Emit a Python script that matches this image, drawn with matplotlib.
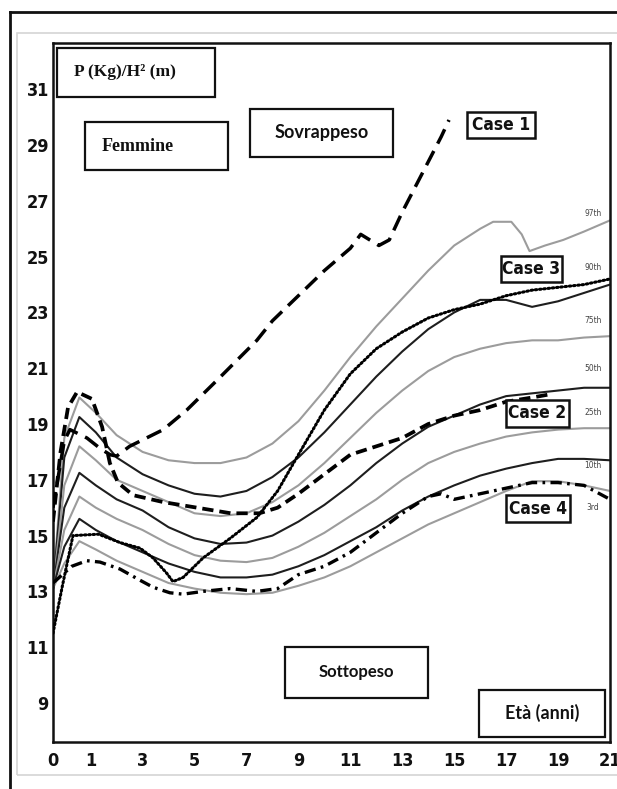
import numpy as np
import matplotlib
matplotlib.use("Agg")
import matplotlib.pyplot as plt
from matplotlib.patches import Rectangle
from matplotlib.lines import Line2D

# ---- percentile reference curves (BMI by age, girls) ----
pct_names = ["97th", "90th", "75th", "50th", "25th", "10th", "3rd"]
pct_age = [0, 0.3, 0.7, 1.2, 2, 3, 4, 5, 6, 7, 8, 9, 10, 11, 12, 13, 14, 15,
           16, 17, 18, 19, 20, 21]
p97_age = [0, 0.3, 0.7, 1.2, 2, 3, 4, 5, 6, 7, 8, 9, 10, 11, 12, 13, 14, 15,
           16, 16.5, 17.2, 17.6, 17.9, 18.5, 19.2, 20, 21]
p97 = [13.1, 18.5, 19.95, 19.4, 18.6, 18.0, 17.7, 17.6, 17.6, 17.8, 18.3,
       19.1, 20.2, 21.4, 22.5, 23.5, 24.5, 25.4, 26.0, 26.25, 26.25, 25.8,
       25.2, 25.4, 25.6, 25.9, 26.3]
p90 = [13.1, 17.8, 19.25, 18.7, 17.8, 17.2, 16.8, 16.5, 16.4, 16.6, 17.1,
       17.8, 18.7, 19.7, 20.7, 21.6, 22.4, 23.0, 23.45, 23.45, 23.2, 23.4,
       23.7, 24.0]
p75 = [13.1, 16.8, 18.2, 17.7, 17.0, 16.6, 16.2, 15.8, 15.7, 15.8, 16.2,
       16.8, 17.6, 18.5, 19.4, 20.2, 20.9, 21.4, 21.7, 21.9, 22.0, 22.0,
       22.1, 22.15]
p50 = [13.1, 16.0, 17.25, 16.8, 16.3, 15.9, 15.3, 14.9, 14.7, 14.75, 15.0,
       15.5, 16.1, 16.8, 17.6, 18.3, 18.9, 19.3, 19.7, 20.0, 20.1, 20.2,
       20.3, 20.3]
p25 = [13.1, 15.2, 16.4, 16.0, 15.6, 15.2, 14.7, 14.3, 14.1, 14.05, 14.2,
       14.6, 15.1, 15.7, 16.3, 17.0, 17.6, 18.0, 18.3, 18.55, 18.7, 18.8,
       18.85, 18.85]
p10 = [13.1, 14.6, 15.6, 15.2, 14.8, 14.4, 14.0, 13.7, 13.5, 13.5, 13.6,
       13.9, 14.3, 14.8, 15.3, 15.9, 16.4, 16.8, 17.15, 17.4, 17.6, 17.75,
       17.75, 17.7]
p3 = [13.1, 14.0, 14.8, 14.5, 14.1, 13.7, 13.3, 13.1, 12.95, 12.9, 12.95,
      13.2, 13.5, 13.9, 14.4, 14.9, 15.4, 15.8, 16.2, 16.6, 16.95, 16.95,
      16.8, 16.6]

# ---- individual patients ----
case1_age = [0, 0.15, 0.3, 0.45, 0.9, 1.4, 1.75, 2.0, 2.5, 3.8, 4.7, 5.9, 7.4,
             8, 9, 10, 11, 11.4, 12.1, 12.5, 13, 13.5, 14, 14.5, 14.8]
case1_bmi = [16.0, 17.2, 18.4, 18.8, 18.5, 18.1, 17.9, 17.85, 18.2, 18.8, 19.5,
             20.6, 22.0, 22.7, 23.6, 24.5, 25.3, 25.8, 25.4, 25.6, 26.6, 27.5,
             28.4, 29.3, 29.9]

case2_age = [0, 0.2, 0.4, 0.64, 1.05, 1.44, 1.74, 2.05, 2.63, 3.8, 5.1, 6.4,
             7.5, 8.2, 9, 10, 11, 12, 13, 14, 15, 16, 17, 18, 18.6]
case2_bmi = [15.5, 18.0, 19.6, 20.15, 19.9, 18.9, 17.6, 16.9, 16.45, 16.2,
             16.0, 15.8, 15.8, 16.0, 16.5, 17.2, 17.9, 18.2, 18.5, 19.0, 19.3,
             19.5, 19.8, 19.95, 20.05]

case3_age = [0, 0.25, 0.53, 1.3, 2.13, 2.9, 3.4, 3.93, 4.17, 4.56, 5.33, 6.37,
             7.4, 8.2, 9, 10, 11, 12, 13, 14, 15, 16, 17, 18, 19, 20, 21]
case3_bmi = [11.5, 13.2, 15.0, 15.05, 14.75, 14.55, 14.2, 13.65, 13.35, 13.5,
             14.2, 14.9, 15.65, 16.6, 17.9, 19.5, 20.8, 21.7, 22.3, 22.8, 23.1,
             23.3, 23.6, 23.8, 23.9, 24.0, 24.2]

case4_age = [0, 0.5, 0.9, 1.36, 2.13, 2.9, 3.4, 4.05, 4.56, 5.33, 6.37, 7.4,
             8.2, 9, 10, 11, 12, 13, 14, 14.5, 15, 16, 17, 18, 19, 20, 21]
case4_bmi = [13.3, 13.9, 14.1, 14.05, 13.8, 13.4, 13.15, 12.95, 12.9, 13.0,
             13.1, 13.0, 13.1, 13.6, 13.9, 14.4, 15.1, 15.8, 16.4, 16.5, 16.3,
             16.5, 16.7, 16.9, 16.9, 16.8, 16.3]

x_ticks = [0, 1, 3, 5, 7, 9, 11, 13, 15, 17, 19, 21]
y_ticks = [9, 11, 13, 15, 17, 19, 21, 23, 25, 27, 29, 31]

# ---- layout ----
FIRST_YEAR_STRETCH = 1.45
pct_label_y = [26.56, 24.6, 22.7, 21.0, 19.4, 17.5, 16.0]
NARROW = ["DejaVu Sans"]
SERIF = ["Liberation Serif", "DejaVu Serif"]
HUMAN = ["Lato", "DejaVu Sans"]


def age_fwd(x):
    x = np.asarray(x, dtype=float)
    return np.where(x < 1, x * FIRST_YEAR_STRETCH, x + FIRST_YEAR_STRETCH - 1)


def age_inv(t):
    t = np.asarray(t, dtype=float)
    return np.where(t < FIRST_YEAR_STRETCH, t / FIRST_YEAR_STRETCH,
                    t - FIRST_YEAR_STRETCH + 1)


fig = plt.figure(figsize=(6.17, 7.89), dpi=100)
W, H = 617, 789
ax = fig.add_axes([53 / W, 1 - 742 / H, (610 - 53) / W, (742 - 43) / H])
ax.set_xscale("function", functions=(age_fwd, age_inv))
ax.set_xlim(0, 21)
ax.set_ylim(7.6, 32.66)

gray = "#9c9c9c"
dark = "#1e1e1e"
pct_series = [(p97_age, p97, gray), (pct_age, p90, dark), (pct_age, p75, gray),
              (pct_age, p50, dark), (pct_age, p25, gray), (pct_age, p10, dark),
              (pct_age, p3, gray)]
for (ages, vals, col) in pct_series:
    ax.plot(ages, vals, color=col, lw=1.5, solid_capstyle="round", zorder=2)

for name, ly in zip(pct_names, pct_label_y):
    ax.text(20.35, ly, name, fontsize=6, color="#444444", ha="center",
            va="center", family=NARROW, fontstretch="condensed", zorder=3)

ax.plot(case1_age, case1_bmi, color="black", lw=2.5,
        linestyle=(0, (4.6, 2.4)), zorder=4)
ax.plot(case2_age, case2_bmi, color="black", lw=2.7,
        linestyle=(0, (3.0, 1.6)), zorder=4)
ax.plot(case3_age, case3_bmi, color="black", lw=2.2,
        linestyle=(0, (0.5, 0.9)), dash_capstyle="round", zorder=4)
ax.plot(case4_age, case4_bmi, color="black", lw=2.4,
        linestyle=(0, (3.4, 1.6, 0.8, 1.6)), zorder=4)

ax.set_xticks(x_ticks)
ax.set_xticklabels([str(v) for v in x_ticks])
ax.set_yticks(y_ticks)
ax.set_yticklabels([str(v) for v in y_ticks])
ax.tick_params(axis="x", length=0, pad=7, labelsize=13)
ax.tick_params(axis="y", length=0, pad=3, labelsize=13)
for lab in ax.get_xticklabels() + ax.get_yticklabels():
    lab.set_family(NARROW)
    lab.set_fontweight("bold")
    lab.set_fontstretch("condensed")
    lab.set_color("#111111")
for sp in ax.spines.values():
    sp.set_linewidth(1.8)
    sp.set_color("#111111")


def label_box(x0, y0, x1, y1, text, size, family, lw=1.6, tx=None):
    ax.add_patch(Rectangle((x0, y0), x1 - x0, y1 - y0, transform=ax.transAxes,
                           fill=True, facecolor="white", edgecolor="#111111",
                           lw=lw, zorder=5))
    cx = (x0 + x1) / 2 if tx is None else tx
    ax.text(cx, (y0 + y1) / 2, text, transform=ax.transAxes,
            ha="center" if tx is None else "left", va="center",
            fontsize=size, fontweight="bold", family=family,
            fontstretch="condensed", zorder=6, color="#111111")


label_box(0.007, 0.923, 0.291, 0.993, "P (Kg)/H\u00b2 (m)", 12.5, SERIF, tx=0.038)
label_box(0.057, 0.818, 0.314, 0.887, "Femmine", 13, SERIF, tx=0.087)
label_box(0.354, 0.837, 0.610, 0.906, "Sovrappeso", 13, HUMAN)
label_box(0.743, 0.864, 0.865, 0.901, "Case 1", 12.5, NARROW, lw=1.8)
label_box(0.804, 0.658, 0.914, 0.695, "Case 3", 12.5, NARROW, lw=1.8)
label_box(0.813, 0.451, 0.926, 0.489, "Case 2", 12.5, NARROW, lw=1.8)
label_box(0.813, 0.315, 0.928, 0.353, "Case 4", 12.5, NARROW, lw=1.8)
label_box(0.417, 0.063, 0.673, 0.136, "Sottopeso", 12, HUMAN)
label_box(0.765, 0.007, 0.991, 0.075, "Et\u00e0 (anni)", 13, HUMAN)

# surrounding frames of the figure panel
fig.add_artist(Rectangle((17 / W, 1 - 775 / H), (W + 20 - 17) / W, (775 - 33) / H,
                         transform=fig.transFigure, fill=False,
                         edgecolor="#d4d4d4", lw=1.2))
fig.add_artist(Line2D([10 / W, 10 / W], [0, 1 - 12 / H], transform=fig.transFigure,
                      color="#111111", lw=2))
fig.add_artist(Line2D([10 / W, 1], [1 - 12 / H, 1 - 12 / H],
                      transform=fig.transFigure, color="#111111", lw=2))

fig.savefig("out.png", dpi=100)
